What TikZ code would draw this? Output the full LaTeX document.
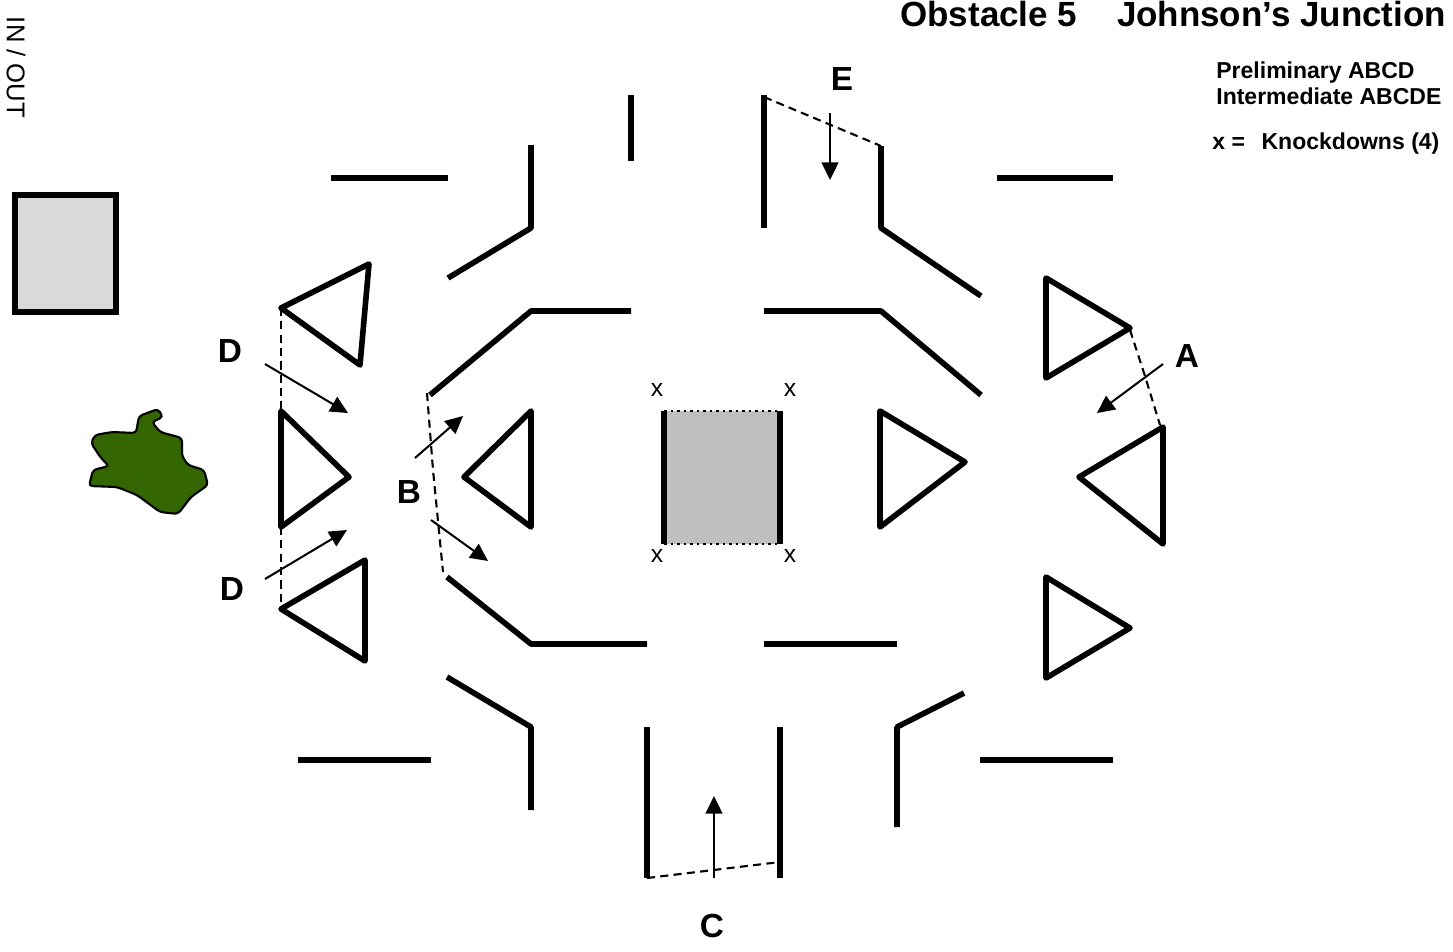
\documentclass[tikz,border=0pt]{standalone}
\usepackage{fontspec}
\setmainfont{Liberation Sans}
\usetikzlibrary{arrows.meta}
\definecolor{bushgreen}{HTML}{336600}
\definecolor{tablegray}{HTML}{D9D9D9}
\definecolor{pitgray}{HTML}{BFBFBF}
\tikzset{
  wall/.style={line width=3.2pt,line join=round,line cap=butt},
  gate/.style={line width=1.2pt,dash pattern=on 4.6pt off 3pt},
  lane/.style={line width=1.15pt,-{Triangle[length=10pt,width=9.5pt]}},
  edge/.style={line width=1.2pt,dash pattern=on 1.6pt off 2.1pt},
  letter/.style={font=\bfseries\fontsize{19}{20}\selectfont,inner sep=0pt},
  note/.style={font=\bfseries\fontsize{13.1}{15}\selectfont,anchor=base west,inner sep=0pt},
  knock/.style={font=\fontsize{14}{16}\selectfont,inner sep=0pt},
}
\begin{document}
\begin{tikzpicture}[x=0.02cm,y=-0.02cm]
            \useasboundingbox (0,0) rectangle (1453,951);

            % Titles
            \node[anchor=base west,inner sep=0pt,font=\bfseries\fontsize{19.9}{22}\selectfont] (title) at (900,26.5) {Obstacle 5\hspace{1.14em}Johnson’s Junction};
            \node[note] (prelim) at (1216,78) {Preliminary ABCD};
            \node[note] (inter) at (1216,104) {Intermediate ABCDE};
            \node[note] (knocks) at (1212,149) {x =\ \ \,Knockdowns (4)};
            \node[rotate=-90,inner sep=0pt,font=\fontsize{14.6}{16}\selectfont] (inout) at (16,67.5) {IN / OUT};

            % Grey box and bush on the left
            \draw[wall,line join=miter,fill=tablegray] (15,195) rectangle (116,312);
            \draw[line width=1.2pt,fill=bushgreen,rounded corners=2pt]
              (89,486) -- (93,470) -- (109,466) -- (101,458) -- (91,443) -- (95,435) -- (112,432) -- (136,433)
              -- (139,416) -- (158,409) -- (163,417) -- (152,422) -- (160,432) -- (182,438)
              -- (182,456) -- (188,465) -- (204,470) -- (208,485) -- (191,497) -- (178,514)
              -- (160,512) -- (137,495) -- (117,487) -- cycle;

            % Centre obstacle
            \fill[pitgray] (664,411) rectangle (780,544);
            \draw[edge] (664,411) -- (780,411);
            \draw[edge] (664,544) -- (780,544);
            \draw[line width=3.4pt] (664,411) -- (664,544);
            \draw[line width=3.4pt] (780,411) -- (780,544);
            \node[knock] (x1) at (657,390) {x};
            \node[knock] (x2) at (790,390) {x};
            \node[knock] (x3) at (657,556) {x};
            \node[knock] (x4) at (790,556) {x};

            % Top walls
            \draw[wall] (331,178) -- (448,178);
            \draw[wall] (531,145) -- (531,228) -- (448,278);
            \draw[wall] (631,95) -- (631,161);
            \draw[wall] (764,95) -- (764,228);
            \draw[wall] (881,146) -- (881,228) -- (981,296);
            \draw[wall] (997,178) -- (1113,178);

            % Inner walls
            \draw[wall] (430,395) -- (531,311) -- (631,311);
            \draw[wall] (764,311) -- (881,311) -- (981,395);
            \draw[wall] (447,577) -- (531,644) -- (647,644);
            \draw[wall] (764,644) -- (897,644);

            % Bottom walls
            \draw[wall] (298,760) -- (431,760);
            \draw[wall] (447,677) -- (531,727) -- (531,810);
            \draw[wall] (647,727) -- (647,878);
            \draw[wall] (780,727) -- (780,878);
            \draw[wall] (964,693) -- (897,727) -- (897,827);
            \draw[wall] (980,760) -- (1113,760);

            % Triangles
            \draw[wall] (281,308) -- (369,264) -- (360,365) -- cycle;
            \draw[wall] (281,411) -- (349,477) -- (281,527) -- cycle;
            \draw[wall] (281,609) -- (365,560) -- (365,661) -- cycle;
            \draw[wall] (464,477) -- (531,411) -- (531,527) -- cycle;
            \draw[wall] (880,411) -- (965,462) -- (880,527) -- cycle;
            \draw[wall] (1046,278) -- (1130,328) -- (1046,378) -- cycle;
            \draw[wall] (1079,477) -- (1163,427) -- (1163,544) -- cycle;
            \draw[wall] (1046,577) -- (1130,628) -- (1046,678) -- cycle;

            % Dashed gates
            \draw[gate] (281,308) -- (281,411);
            \draw[gate] (281,527) -- (281,609);
            \draw[gate] (427,393) -- (433,470) -- (443,572);
            \draw[gate] (764,97) -- (881,146);
            \draw[gate] (647,878) -- (780,862);
            \draw[gate] (1130,330) -- (1144,373) -- (1160,425);

            % Direction arrows
            \draw[lane] (265,364) -- (348,413);
            \draw[lane] (265,579) -- (347,530);
            \draw[lane] (415,458) -- (463,416);
            \draw[lane] (431,520) -- (488,561);
            \draw[lane] (1163,364) -- (1097,413);
            \draw[lane] (830,113) -- (830,180);
            \draw[lane] (714,878) -- (714,796);

            % Obstacle letters
            \node[letter] (labelA) at (1187,356) {A};
            \node[letter] (labelB) at (409,492) {B};
            \node[letter] (labelC) at (712,926) {C};
            \node[letter] (labelDa) at (230,351) {D};
            \node[letter] (labelDb) at (232,589) {D};
            \node[letter] (labelE) at (842,79) {E};

\end{tikzpicture}
\end{document}
